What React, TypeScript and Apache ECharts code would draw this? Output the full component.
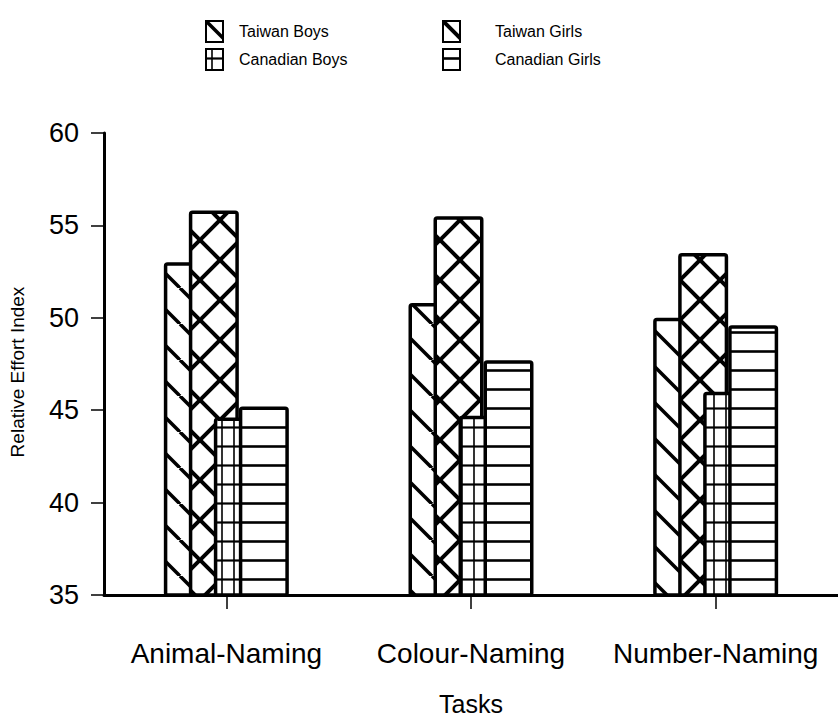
import React, { useEffect, useRef } from 'react';
import * as echarts from 'echarts';

const categories = ['Animal-Naming', 'Colour-Naming', 'Number-Naming'];
const seriesNames = ['Taiwan Boys', 'Taiwan Girls', 'Canadian Boys', 'Canadian Girls'];
const taiwanBoys = [53.0, 50.8, 50.0];
const taiwanGirls = [55.8, 55.5, 53.5];
const canadianBoys = [44.6, 44.7, 46.0];
const canadianGirls = [45.2, 47.7, 49.6];
const yMin = 35;
const yMax = 60;
const yStep = 5;

const SANS = "'Liberation Sans', Arial, Helvetica, sans-serif";

function makePattern(kind: string) {
  const c = document.createElement('canvas');
  let w = 36;
  let h = 36;
  if (kind === 'cross') { w = 40; h = 40; }
  if (kind === 'grid') { w = 12; h = 19; }
  if (kind === 'hlines') { w = 10; h = 19; }
  c.width = w;
  c.height = h;
  const ctx = c.getContext('2d')!;
  ctx.fillStyle = '#ffffff';
  ctx.fillRect(0, 0, w, h);
  ctx.strokeStyle = '#000000';
  ctx.lineCap = 'butt';
  if (kind === 'back') {
    ctx.lineWidth = 3.5;
    for (let k = -1; k <= 1; k++) {
      ctx.beginPath();
      ctx.moveTo(k * w, 0);
      ctx.lineTo(k * w + w, h);
      ctx.stroke();
    }
  } else if (kind === 'cross') {
    ctx.lineWidth = 4;
    for (let k = -1; k <= 1; k++) {
      ctx.beginPath();
      ctx.moveTo(k * w, 0);
      ctx.lineTo(k * w + w, h);
      ctx.stroke();
      ctx.beginPath();
      ctx.moveTo(k * w, h);
      ctx.lineTo(k * w + w, 0);
      ctx.stroke();
    }
  } else if (kind === 'grid') {
    ctx.lineWidth = 1.6;
    ctx.beginPath();
    ctx.moveTo(w / 2, 0);
    ctx.lineTo(w / 2, h);
    ctx.stroke();
    ctx.lineWidth = 2.2;
    ctx.beginPath();
    ctx.moveTo(0, h / 2);
    ctx.lineTo(w, h / 2);
    ctx.stroke();
  } else if (kind === 'hlines') {
    ctx.lineWidth = 2.6;
    ctx.beginPath();
    ctx.moveTo(0, h / 2);
    ctx.lineTo(w, h / 2);
    ctx.stroke();
  }
  return { image: c, repeat: 'repeat', imageWidth: w, imageHeight: h } as any;
}

export default function App() {
  const ref = useRef<HTMLDivElement>(null);
  useEffect(() => {
    if (!ref.current) return;
    const chart = echarts.init(ref.current, undefined, { renderer: 'svg' });
    const patterns = [makePattern('back'), makePattern('cross'), makePattern('grid'), makePattern('hlines')];
    const values = [taiwanBoys, taiwanGirls, canadianBoys, canadianGirls];
    const legendCommon = {
      orient: 'vertical',
      top: 20,
      padding: 0,
      itemWidth: 17,
      itemHeight: 21,
      itemGap: 5,
      icon: 'rect',
      selectedMode: false,
      textStyle: { fontFamily: SANS, fontSize: 16, color: '#000' },
    };
    chart.setOption({
      animation: false,
      backgroundColor: '#ffffff',
      legend: [
        { ...legendCommon, left: 205, data: [seriesNames[0], seriesNames[2]], textStyle: { ...legendCommon.textStyle, padding: [0, 0, 0, 11] } },
        { ...legendCommon, left: 442, data: [seriesNames[1], seriesNames[3]], textStyle: { ...legendCommon.textStyle, padding: [0, 0, 0, 30] } },
      ],
      grid: { left: 100, right: -12, top: 133, bottom: 124, containLabel: false },
      xAxis: {
        type: 'category',
        data: categories,
        name: 'Tasks',
        nameLocation: 'middle',
        nameGap: 96,
        nameTextStyle: { fontFamily: SANS, fontSize: 25, color: '#000' },
        axisLine: { show: true, lineStyle: { color: '#000', width: 3 } },
        axisTick: { show: true, alignWithLabel: true, length: 14, lineStyle: { color: '#000', width: 1.5 } },
        axisLabel: { interval: 0, fontFamily: SANS, fontSize: 28, color: '#000', margin: 44 },
        splitLine: { show: false },
      },
      yAxis: {
        type: 'value',
        min: yMin,
        max: yMax,
        interval: yStep,
        name: 'Relative Effort Index',
        nameLocation: 'middle',
        nameGap: 77,
        nameRotate: 90,
        nameTextStyle: { fontFamily: SANS, fontSize: 19, color: '#000', padding: [0, 16, 0, 0] },
        axisLine: { show: true, lineStyle: { color: '#000', width: 3 } },
        axisTick: { show: true, length: 13, lineStyle: { color: '#000', width: 1.5 } },
        axisLabel: { fontFamily: SANS, fontSize: 27, color: '#000', margin: 25 },
        splitLine: { show: false },
      },
      series: seriesNames.map((name, i) => ({
        name,
        type: 'bar',
        data: values[i],
        barWidth: 50,
        barGap: '-50%',
        itemStyle: {
          color: patterns[i],
          borderColor: '#000',
          borderWidth: 3.5,
          borderRadius: 2,
        },
      })),
    });
    return () => chart.dispose();
  }, []);
  return <div ref={ref} style={{ position: 'absolute', left: 0, top: 0, width: 838, height: 721 }} />;
}
